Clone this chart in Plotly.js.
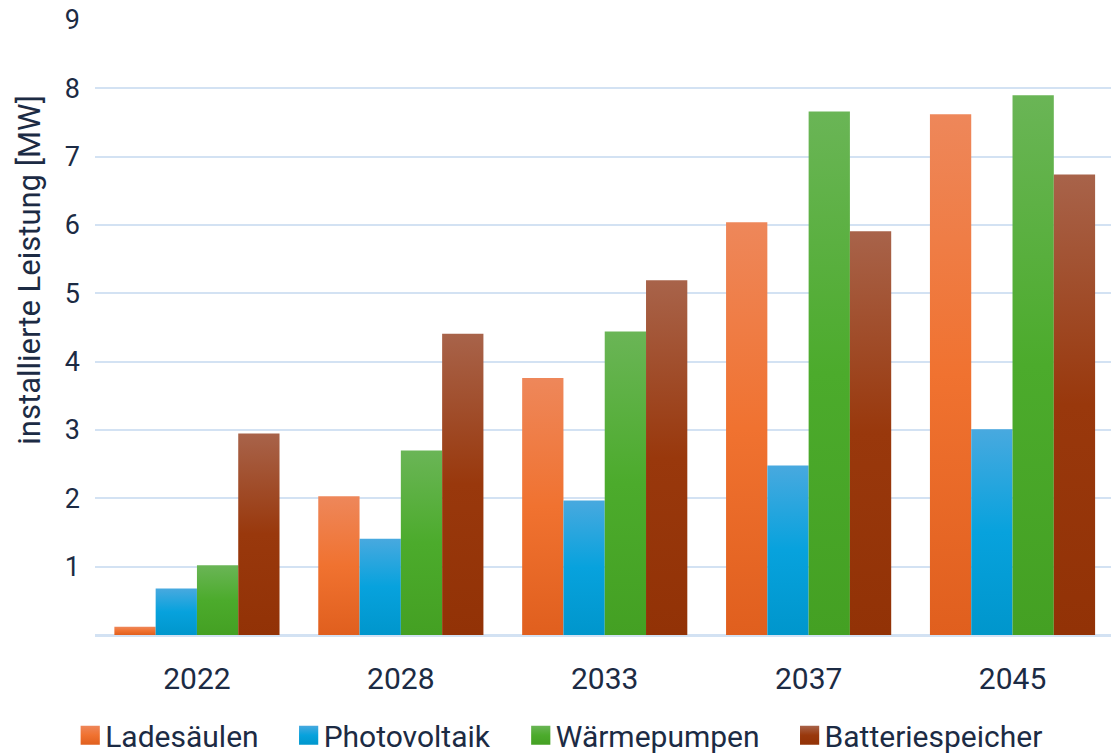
<!DOCTYPE html>
<html>
<head>
<meta charset="utf-8">
<script src="https://cdn.plot.ly/plotly-3.0.1.min.js"></script>
<style>html,body{margin:0;padding:0;background:#fff;}#chart{width:1111px;height:753px;}</style>
</head>
<body>
<div id="chart"></div>
<script>
const years = ["2022", "2028", "2033", "2037", "2045"];
const seriesNames = ["Ladesäulen", "Photovoltaik", "Wärmepumpen", "Batteriespeicher"];
const ladesaeulen = [0.12, 2.03, 3.76, 6.04, 7.62];
const photovoltaik = [0.68, 1.41, 1.97, 2.48, 3.01];
const waermepumpen = [1.02, 2.70, 4.44, 7.66, 7.90];
const batteriespeicher = [2.95, 4.41, 5.19, 5.91, 6.74];
const yTicks = [1, 2, 3, 4, 5, 6, 7, 8, 9];
const yTitle = "installierte Leistung [MW]";

const baseColors = ["#ee702e", "#0ca2dc", "#4ba62c", "#993810"];
const gradStops = [
  ["#ee875a", "#f07230", "#e05f1e"],
  ["#48a9df", "#07a2dd", "#0096cc"],
  ["#6ab556", "#4cab2c", "#44a023"],
  ["#a8634a", "#99380c", "#923206"]
];
const values = [ladesaeulen, photovoltaik, waermepumpen, batteriespeicher];
const textColor = "#1c2b44";
const font = "Roboto, 'Noto Sans', sans-serif";

const traces = seriesNames.map((n, i) => ({
  type: "bar", name: n, x: years, y: values[i],
  marker: {color: baseColors[i], line: {width: 0}},
  hoverinfo: "none"
}));

const layout = {
  width: 1111, height: 753,
  margin: {l: 95, r: 0, t: 20, b: 118, autoexpand: false},
  paper_bgcolor: "#fff", plot_bgcolor: "#fff",
  barmode: "group", bargap: 0.19, bargroupgap: 0,
  font: {family: font, color: textColor, size: 28},
  xaxis: {
    type: "category", range: [-0.5, 4.483],
    showgrid: false, zeroline: false, showline: false, ticks: "",
    tickfont: {size: 30, color: textColor}, ticklabelstandoff: 23
  },
  yaxis: {
    range: [0, 9], tickvals: yTicks, ticktext: yTicks.map(String),
    showgrid: true, gridcolor: "#d3e2f3", gridwidth: 2,
    zeroline: true, zerolinecolor: "#d3e2f3", zerolinewidth: 3,
    showline: false, ticks: "", ticklabelstandoff: 14,
    tickfont: {size: 27, color: textColor}
  },
  annotations: [{
    text: yTitle, textangle: -90, showarrow: false,
    xref: "paper", yref: "paper", x: -0.064, y: 0.594,
    xanchor: "center", yanchor: "middle",
    font: {size: 31, color: textColor}
  }],
  legend: {
    orientation: "h", xref: "paper", x: -0.049, xanchor: "left",
    yref: "paper", y: -0.1207, yanchor: "top",
    font: {size: 30, color: textColor}, itemwidth: 50, traceorder: "normal",
    bgcolor: "rgba(0,0,0,0)"
  },
  showlegend: true
};

function applyGradients(gd) {
  const svg = gd.querySelector(".main-svg");
  if (!svg) return;
  let defs = svg.querySelector("defs");
  if (!defs) { defs = document.createElementNS("http://www.w3.org/2000/svg", "defs"); svg.insertBefore(defs, svg.firstChild); }
  gradStops.forEach((st, i) => {
    const id = "bargrad" + i;
    if (defs.querySelector("#" + id)) return;
    const lg = document.createElementNS("http://www.w3.org/2000/svg", "linearGradient");
    lg.setAttribute("id", id); lg.setAttribute("x1", "0"); lg.setAttribute("y1", "0");
    lg.setAttribute("x2", "0"); lg.setAttribute("y2", "1");
    [[0, st[0]], [0.5, st[1]], [1, st[2]]].forEach(([o, c]) => {
      const s = document.createElementNS("http://www.w3.org/2000/svg", "stop");
      s.setAttribute("offset", o); s.setAttribute("stop-color", c);
      lg.appendChild(s);
    });
    defs.appendChild(lg);
  });
  gd.querySelectorAll(".barlayer .trace.bars").forEach((t, i) => {
    t.querySelectorAll("path").forEach(p => { p.style.fill = "url(#bargrad" + (i % 4) + ")"; });
  });
  gd.querySelectorAll(".legend .traces").forEach((t, i) => {
    t.querySelectorAll(".legendpoints path").forEach(p => {
      p.style.fill = "url(#bargrad" + (i % 4) + ")";
      p.setAttribute("transform", "translate(45,0) scale(1.6)");
    });
  });
}

const gd = document.getElementById("chart");
Plotly.newPlot(gd, traces, layout, {staticPlot: true, displayModeBar: false}).then(() => {
  applyGradients(gd);
  gd.on && gd.on("plotly_afterplot", () => applyGradients(gd));
});
</script>
</body>
</html>
